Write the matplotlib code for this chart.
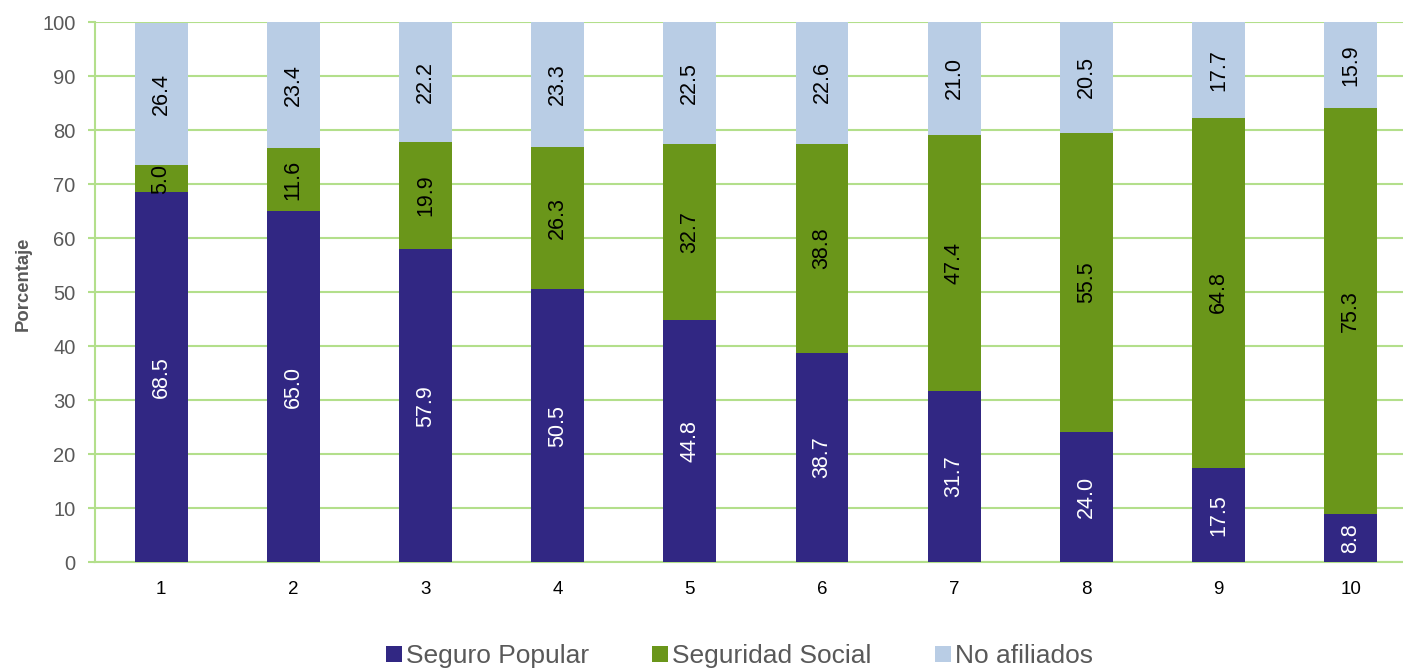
import matplotlib
import matplotlib.pyplot as plt
import numpy as np

matplotlib.use("Agg")

plt.rcParams["font.family"] = ["Liberation Sans", "DejaVu Sans"]

# Data
deciles = ["1", "2", "3", "4", "5", "6", "7", "8", "9", "10"]
seguro_popular = [68.5, 65.0, 57.9, 50.5, 44.8, 38.7, 31.7, 24.0, 17.5, 8.8]
seguridad_social = [5.0, 11.6, 19.9, 26.3, 32.7, 38.8, 47.4, 55.5, 64.8, 75.3]
no_afiliados = [26.4, 23.4, 22.2, 23.3, 22.5, 22.6, 21.0, 20.5, 17.7, 15.9]
series_names = ["Seguro Popular", "Seguridad Social", "No afiliados"]

colors = ["#312783", "#6a961a", "#b9cde5"]
text_colors = ["white", "black", "black"]
grid_green = "#b3df8b"
gray = "#595959"

fig = plt.figure(figsize=(14.03, 6.68), dpi=100)
ax = fig.add_axes([95 / 1403, 106 / 668, 1308 / 1403, 540 / 668])

x = np.arange(len(deciles))
width = 0.40
bottom = np.zeros(len(deciles))
for vals, name, col, tcol in zip(
    [seguro_popular, seguridad_social, no_afiliados], series_names, colors, text_colors
):
    vals = np.array(vals)
    ax.bar(x, vals, width=width, bottom=bottom, color=col, label=name, zorder=3)
    for xi, b, v in zip(x, bottom, vals):
        ax.text(
            xi,
            b + v / 2,
            f"{v:.1f}",
            rotation=90,
            ha="center",
            va="center",
            fontsize=15.5,
            color=tcol,
            zorder=4,
        )
    bottom += vals

ax.set_xlim(-0.5, 9.395)
ax.set_ylim(0, 100)
ax.set_yticks(np.arange(0, 101, 10))
ax.set_xticks(x)
ax.set_xticklabels(deciles)

ax.grid(True, axis="y", color=grid_green, linewidth=1.5, zorder=0)
for side in ["top", "right"]:
    ax.spines[side].set_visible(False)
ax.spines["left"].set_color(grid_green)
ax.spines["left"].set_linewidth(1.5)
ax.spines["bottom"].set_color(grid_green)
ax.spines["bottom"].set_linewidth(1.5)

ax.tick_params(axis="y", colors=grid_green, labelcolor=gray, labelsize=14.5,
               length=5, width=1.5, pad=9)
ax.tick_params(axis="x", length=0, labelsize=13.5, labelcolor="black", pad=14)

ax.set_ylabel("Porcentaje", fontsize=13.3, fontweight="bold", color=gray)
ax.yaxis.set_label_coords(-0.048, 0.515)

fig.legend(
    loc="lower center",
    bbox_to_anchor=(0.527, -0.036),
    ncol=3,
    frameon=False,
    fontsize=19,
    handlelength=0.6,
    handleheight=0.6,
    handletextpad=0.15,
    columnspacing=2.4,
    labelcolor=gray,
)

fig.savefig("out.png", dpi=100)
